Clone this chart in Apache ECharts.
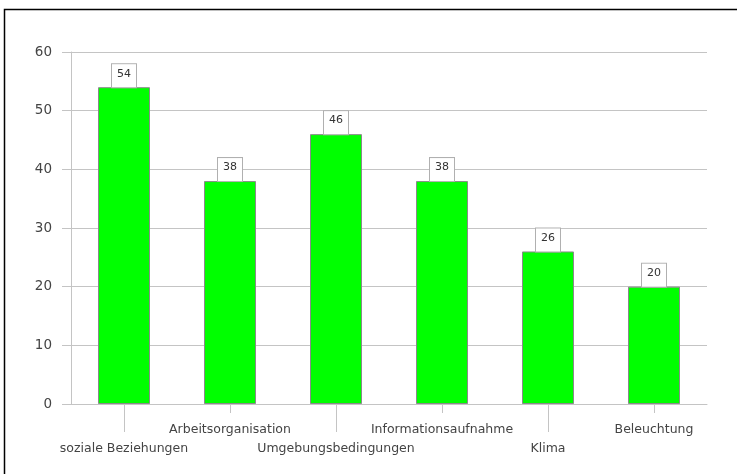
<!DOCTYPE html>
<html>
<head>
<meta charset="utf-8">
<script src="https://cdn.jsdelivr.net/npm/echarts@6/dist/echarts.min.js"></script>
<style>
  html, body { margin: 0; padding: 0; background: #fff; }
  #chart { width: 737px; height: 474px; }
</style>
</head>
<body>
<div id="chart"></div>
<script>
// data
var categories = ['soziale Beziehungen', 'Arbeitsorganisation', 'Umgebungsbedingungen',
  'Informationsaufnahme', 'Klima', 'Beleuchtung'];
var values = [54, 38, 46, 38, 26, 20];
var yTicks = [0, 10, 20, 30, 40, 50, 60];

var gridColor = '#c4c4c4';
var textColor = '#444';
var font = 'DejaVu Sans, Arial, sans-serif';

var chart = echarts.init(document.getElementById('chart'));

chart.setOption({
  animation: false,
  textStyle: { fontFamily: font },
  // only top and left frame lines are visible in the original
  graphic: [{
    type: 'polyline',
    shape: { points: [[4.5, 474], [4.5, 9.5], [737, 9.5]] },
    style: { fill: 'none', stroke: '#000', lineWidth: 1.5 },
    silent: true
  }],
  grid: { left: 71, right: 30, top: 52, bottom: 70 },
  xAxis: [
    {
      type: 'category',
      data: categories,
      axisLine: { lineStyle: { color: gridColor } },
      axisTick: {
        show: true,
        alignWithLabel: true,
        length: 28,
        interval: function (i) { return i % 2 === 0; },
        lineStyle: { color: gridColor }
      },
      axisLabel: {
        interval: 0,
        margin: 16,
        fontSize: 12.5,
        lineHeight: 19,
        color: textColor,
        formatter: function (v, i) { return i % 2 === 0 ? '\n' + v : v; }
      }
    },
    {
      type: 'category',
      data: categories,
      position: 'bottom',
      axisLine: { show: false },
      axisLabel: { show: false },
      axisTick: {
        show: true,
        alignWithLabel: true,
        length: 9,
        interval: function (i) { return i % 2 === 1; },
        lineStyle: { color: gridColor }
      }
    }
  ],
  yAxis: {
    type: 'value',
    min: yTicks[0],
    max: yTicks[yTicks.length - 1],
    interval: 10,
    axisLine: { show: true, lineStyle: { color: gridColor } },
    axisTick: { show: true, length: 9, lineStyle: { color: gridColor } },
    splitLine: { lineStyle: { color: gridColor } },
    axisLabel: { fontSize: 13.5, color: textColor, margin: 19 }
  },
  series: [{
    type: 'bar',
    data: values,
    barWidth: 52,
    itemStyle: { color: '#00ff00', borderColor: '#8a8a8a', borderWidth: 1 },
    label: {
      show: true,
      position: 'top',
      distance: 0,
      fontSize: 11,
      color: '#333',
      backgroundColor: '#fff',
      borderColor: '#b0b0b0',
      borderWidth: 1,
      padding: [4, 5, 8, 5]
    }
  }]
});
</script>
</body>
</html>
